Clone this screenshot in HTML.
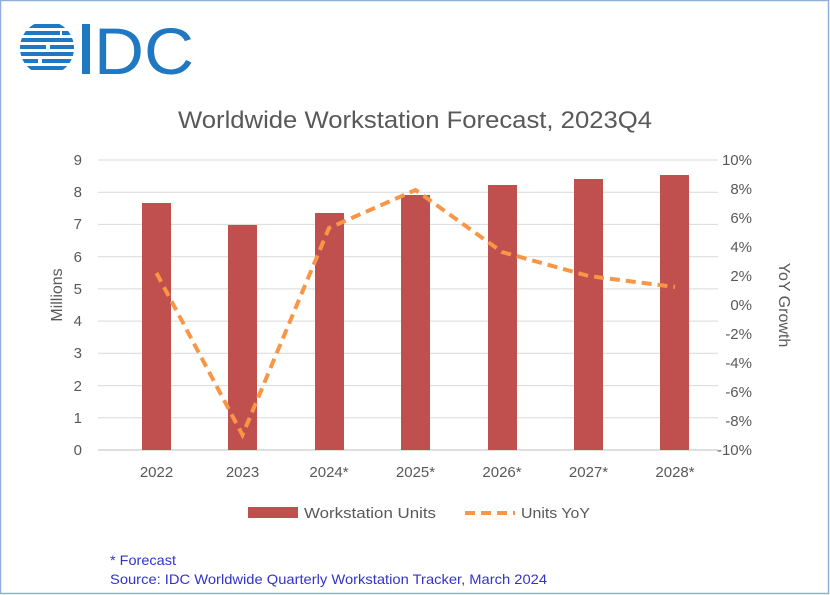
<!DOCTYPE html>
<html><head><meta charset="utf-8"><style>
html,body{margin:0;padding:0;background:#fff;}
svg{display:block;font-family:"Liberation Sans",sans-serif;}
</style></head><body>
<svg width="830" height="595" viewBox="0 0 830 595" xmlns="http://www.w3.org/2000/svg">
<rect x="0.5" y="0.5" width="828" height="593" fill="#fff" stroke="#8fb0dc" stroke-width="1.5"/>
<g fill="#1f78c1">
<clipPath id="c"><circle cx="47" cy="48" r="27"/></clipPath>
<g clip-path="url(#c)">
<rect x="18" y="24" width="60" height="4"/>
<rect x="18" y="31" width="42" height="4"/><rect x="62" y="31" width="16" height="4"/>
<rect x="18" y="38" width="60" height="4"/>
<rect x="18" y="45" width="28" height="4"/><rect x="50" y="45" width="28" height="4"/>
<rect x="18" y="52" width="60" height="4"/>
<rect x="18" y="59" width="20" height="4"/><rect x="42" y="59" width="36" height="4"/>
<rect x="18" y="66" width="60" height="4"/>
</g>
<rect x="82" y="24" width="8" height="50"/>
<text x="94" y="74" font-size="66" fill="#1f78c1" textLength="100" lengthAdjust="spacingAndGlyphs">DC</text>
</g>
<text x="415" y="128" font-size="24" fill="#595959" text-anchor="middle" textLength="474" lengthAdjust="spacingAndGlyphs">Worldwide Workstation Forecast, 2023Q4</text>
<g stroke="#d9d9d9" stroke-width="1">
<line x1="98" x2="718" y1="160" y2="160"/><line x1="98" x2="718" y1="192.2" y2="192.2"/>
<line x1="98" x2="718" y1="224.4" y2="224.4"/><line x1="98" x2="718" y1="256.7" y2="256.7"/>
<line x1="98" x2="718" y1="288.9" y2="288.9"/><line x1="98" x2="718" y1="321.1" y2="321.1"/>
<line x1="98" x2="718" y1="353.3" y2="353.3"/><line x1="98" x2="718" y1="385.6" y2="385.6"/>
<line x1="98" x2="718" y1="417.8" y2="417.8"/><line x1="98" x2="718" y1="450" y2="450" stroke="#bfbfbf"/>
</g>
<g fill="#c0504d">
<rect x="142" y="203" width="29" height="247"/>
<rect x="228" y="225" width="29" height="225"/>
<rect x="315" y="213" width="29" height="237"/>
<rect x="401" y="195" width="29" height="255"/>
<rect x="488" y="185" width="29" height="265"/>
<rect x="574" y="179" width="29" height="271"/>
<rect x="660" y="175" width="29" height="275"/>
</g>
<polyline points="156.5,273 242.5,435 329,228 415.5,190 502,252 588.5,276 675,287" fill="none" stroke="#f79646" stroke-width="4" stroke-dasharray="10,6"/>
<g font-size="15" fill="#595959" text-anchor="end">
<text x="82" y="165">9</text><text x="82" y="197">8</text><text x="82" y="229">7</text>
<text x="82" y="262">6</text><text x="82" y="294">5</text><text x="82" y="326">4</text>
<text x="82" y="358">3</text><text x="82" y="391">2</text><text x="82" y="423">1</text><text x="82" y="455">0</text>
</g>
<g font-size="15" fill="#595959" text-anchor="end">
<text x="752" y="165">10%</text><text x="752" y="194">8%</text><text x="752" y="223">6%</text>
<text x="752" y="252">4%</text><text x="752" y="281">2%</text><text x="752" y="310">0%</text>
<text x="752" y="339">-2%</text><text x="752" y="368">-4%</text><text x="752" y="397">-6%</text>
<text x="752" y="426">-8%</text><text x="752" y="455">-10%</text>
</g>
<g font-size="15" fill="#595959" text-anchor="middle">
<text x="156.5" y="477">2022</text><text x="242.5" y="477">2023</text><text x="329" y="477">2024*</text>
<text x="415.5" y="477">2025*</text><text x="502" y="477">2026*</text><text x="588.5" y="477">2027*</text><text x="675" y="477">2028*</text>
</g>
<text transform="translate(62,295) rotate(-90)" font-size="16" fill="#595959" text-anchor="middle">Millions</text>
<text transform="translate(779,305) rotate(90)" font-size="16" fill="#595959" text-anchor="middle">YoY Growth</text>
<rect x="248" y="507" width="50" height="11" fill="#c0504d"/>
<text x="304" y="518" font-size="15" fill="#595959" textLength="132" lengthAdjust="spacingAndGlyphs">Workstation Units</text>
<line x1="465" x2="515" y1="513" y2="513" stroke="#f79646" stroke-width="4" stroke-dasharray="10,6"/>
<text x="521" y="518" font-size="15" fill="#595959" textLength="69" lengthAdjust="spacingAndGlyphs">Units YoY</text>
<text x="110" y="565" font-size="14" fill="#3333cc" textLength="66" lengthAdjust="spacingAndGlyphs">* Forecast</text>
<text x="110" y="584" font-size="14" fill="#3333cc" textLength="437" lengthAdjust="spacingAndGlyphs">Source:  IDC Worldwide Quarterly Workstation Tracker, March 2024</text>
</svg>
</body></html>
